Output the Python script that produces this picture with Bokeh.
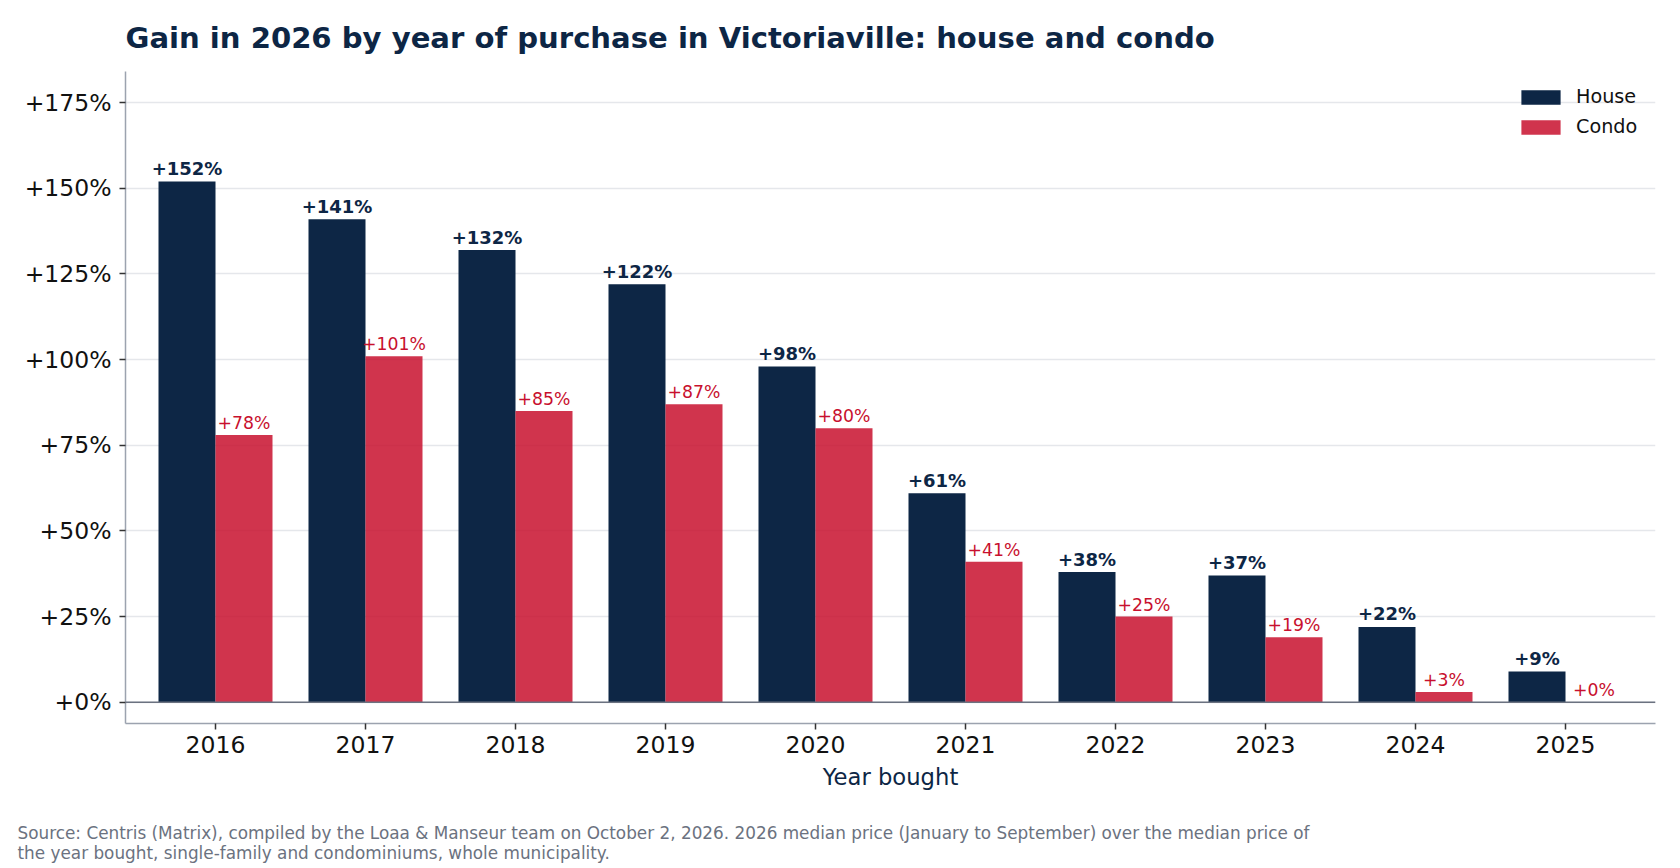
from bokeh.plotting import figure
from bokeh.models import (ColumnDataSource, Range1d, FixedTicker, PrintfTickFormatter,
                          Span, Legend, LegendItem, Title)
from bokeh.core.properties import value
from bokeh.embed import file_html
from bokeh.resources import INLINE

# Data: gain in 2026 by year of purchase (percent)
years = ["2016", "2017", "2018", "2019", "2020", "2021", "2022", "2023", "2024", "2025"]
house_gain = [152, 141, 132, 122, 98, 61, 38, 37, 22, 9]
condo_gain = [78, 101, 85, 87, 80, 41, 25, 19, 3, 0]
y_ticks = [0, 25, 50, 75, 100, 125, 150, 175]

NAVY = "#0d2645"
RED = "#c8102e"
FONT = "DejaVu Sans"
BAR_W = 0.38

idx = list(range(len(years)))
house_src = ColumnDataSource(dict(
    x=[i - BAR_W / 2 for i in idx], top=house_gain,
    label=[f"+{v}%" for v in house_gain]))
condo_src = ColumnDataSource(dict(
    x=[i + BAR_W / 2 for i in idx], top=condo_gain,
    label=[f"+{v}%" for v in condo_gain]))

p = figure(width=1680, height=868, output_backend="svg", toolbar_location=None,
           x_range=Range1d(-0.6, 9.6), y_range=Range1d(-6.2, 184.1),
           min_border_left=125, min_border_right=25, min_border_top=71,
           min_border_bottom=145, outline_line_color=None)

# Title
p.title.text = "Gain in 2026 by year of purchase in Victoriaville: house and condo"
p.title.text_font = FONT
p.title.text_font_size = "29.1px"
p.title.text_font_style = "bold"
p.title.text_color = NAVY
p.title.align = "left"
p.title.standoff = 34

# Bars
r_house = p.vbar(x="x", top="top", bottom=0, width=BAR_W, source=house_src,
                 fill_color=NAVY, line_color=None)
r_condo = p.vbar(x="x", top="top", bottom=0, width=BAR_W, source=condo_src,
                 fill_color=RED, fill_alpha=0.85, line_color=None)

# Value labels above each bar
p.text(x="x", y="top", text="label", source=house_src, text_align="center",
       text_baseline="alphabetic", y_offset=-13, text_font=value(FONT),
       text_font_size="18px", text_font_style="bold", text_color=NAVY)
p.text(x="x", y="top", text="label", source=condo_src, text_align="center",
       text_baseline="alphabetic", y_offset=-12, text_font=value(FONT),
       text_font_size="17.3px", text_color=RED)

# Zero line
p.add_layout(Span(location=0, dimension="width", line_color="#6b7280", line_width=1.6))

# Grid
p.xgrid.grid_line_color = None
p.ygrid.ticker = FixedTicker(ticks=y_ticks)
p.ygrid.grid_line_color = "#e5e7eb"
p.ygrid.grid_line_width = 1.3

# Axes
p.yaxis.ticker = FixedTicker(ticks=y_ticks)
p.yaxis.formatter = PrintfTickFormatter(format="+%d%%")
p.xaxis.ticker = FixedTicker(ticks=idx)
p.xaxis.major_label_overrides = {i: y for i, y in zip(idx, years)}
p.xaxis.axis_label = "Year bought"
p.xaxis.axis_label_text_font = FONT
p.xaxis.axis_label_text_font_size = "22.7px"
p.xaxis.axis_label_text_font_style = "normal"
p.xaxis.axis_label_text_color = NAVY
p.xaxis.axis_label_standoff = 8

for ax in (p.xaxis, p.yaxis):
    ax.axis_line_color = "#9ca3af"
    ax.axis_line_width = 1.5
    ax.major_tick_line_color = "#333333"
    ax.major_tick_line_width = 1.5
    ax.major_tick_out = 6
    ax.major_tick_in = 0
    ax.minor_tick_line_color = None
    ax.major_label_text_font = FONT
    ax.major_label_text_font_size = "23.5px"
    ax.major_label_text_color = "#111111"

p.xaxis.major_label_standoff = 6
p.yaxis.major_label_standoff = 8

# Legend
legend = Legend(items=[LegendItem(label="House", renderers=[r_house]),
                       LegendItem(label="Condo", renderers=[r_condo])],
                location="top_right", background_fill_alpha=0, border_line_alpha=0,
                label_text_font=FONT, label_text_font_size="19.2px",
                label_text_color="#111111", glyph_width=49, glyph_height=18,
                label_standoff=11, label_height=22, label_width=65, spacing=7,
                margin=6, padding=8)
p.add_layout(legend)

# Gap between the axis label and the source note
spacer = Title(text=" ", text_font_size="1px", standoff=27)
p.add_layout(spacer, "below")

# Source note
source_note = Title(
    text="Source: Centris (Matrix), compiled by the Loaa & Manseur team on October 2, 2026. "
         "2026 median price (January to September) over the median price of\n"
         "the year bought, single-family and condominiums, whole municipality.",
    align="left", offset=-108, vertical_align="top", text_font=FONT,
    text_font_size="16.85px", text_font_style="normal", text_color="#6b7280", standoff=0)
p.add_layout(source_note, "below")

open("out.html", "w").write(file_html(p, INLINE))
